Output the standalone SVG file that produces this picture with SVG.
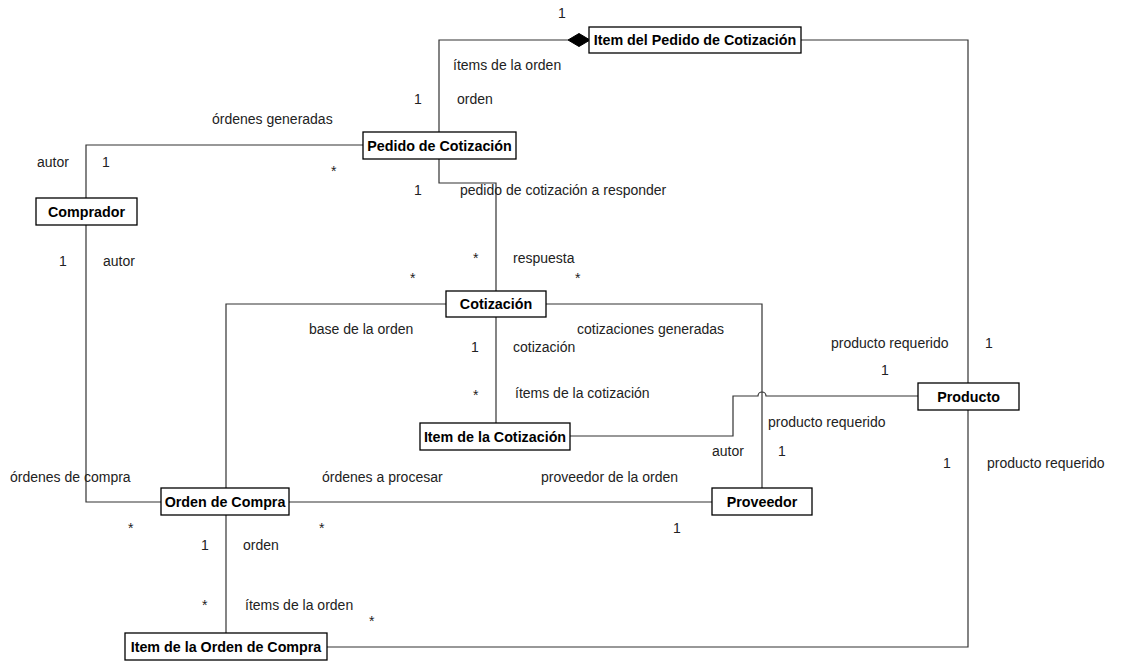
<svg xmlns="http://www.w3.org/2000/svg" width="1121" height="661" viewBox="0 0 1121 661">
<style>
.box{fill:#fff;stroke:#000;stroke-width:1.3}
.bt{font-family:"Liberation Sans",Arial,sans-serif;font-size:14.3px;font-weight:bold;fill:#000;text-anchor:middle}
.lb{font-family:"Liberation Sans",Arial,sans-serif;font-size:14px;fill:#222}
.ln{fill:none;stroke:#333;stroke-width:1.2}
</style>
<rect width="1121" height="661" fill="#fff"/>
<g id="connectors">
<path class="ln" d="M568,40 L439,40 L439,132"/>
<polygon points="568,40 579,33.5 590,40 579,46.5" fill="#000" stroke="#000" stroke-width="1"/>
<path class="ln" d="M801,40 L968,40 L968,383"/>
<path class="ln" d="M363,145 L86,145 L86,198"/>
<path class="ln" d="M439,159 L439,183 L496,183 L496,291"/>
<path class="ln" d="M86,225 L86,502 L161,502"/>
<path class="ln" d="M446,304 L226,304 L226,488"/>
<path class="ln" d="M546,304 L762,304 L762,488"/>
<path class="ln" d="M496,317 L496,423"/>
<path class="ln" d="M570,436 L733,436 L733,396 L758,396 A4,4 0 0 1 766,396 L918,396"/>
<path class="ln" d="M289,502 L712,502"/>
<path class="ln" d="M226,515 L226,633"/>
<path class="ln" d="M327,647 L968,647 L968,410"/>
</g>
<g id="item-pedido"><rect class="box" x="589" y="27" width="212" height="26"/><text class="bt" x="695" y="45">Item del Pedido de Cotización</text></g>
<g id="pedido"><rect class="box" x="363" y="132" width="153" height="27"/><text class="bt" x="439.5" y="151">Pedido de Cotización</text></g>
<g id="comprador"><rect class="box" x="36" y="198" width="101" height="27"/><text class="bt" x="86.5" y="217">Comprador</text></g>
<g id="cotizacion"><rect class="box" x="446" y="291" width="100" height="26"/><text class="bt" x="496" y="309">Cotización</text></g>
<g id="item-cotizacion"><rect class="box" x="420" y="423" width="150" height="27"/><text class="bt" x="495" y="442">Item de la Cotización</text></g>
<g id="producto"><rect class="box" x="918" y="383" width="101" height="27"/><text class="bt" x="968.5" y="402">Producto</text></g>
<g id="proveedor"><rect class="box" x="712" y="488" width="100" height="27"/><text class="bt" x="762" y="507">Proveedor</text></g>
<g id="orden-compra"><rect class="box" x="161" y="488" width="128" height="27"/><text class="bt" x="225" y="507">Orden de Compra</text></g>
<g id="item-orden"><rect class="box" x="125" y="633" width="202" height="27"/><text class="bt" x="226" y="652">Item de la Orden de Compra</text></g>
<g id="labels">
<text class="lb" x="558" y="18">1</text>
<text class="lb" x="453" y="70">ítems de la orden</text>
<text class="lb" x="414" y="104">1</text>
<text class="lb" x="457" y="104">orden</text>
<text class="lb" x="212" y="124">órdenes generadas</text>
<text class="lb" x="37" y="167">autor</text>
<text class="lb" x="102" y="167">1</text>
<text class="lb" x="331" y="176">*</text>
<text class="lb" x="414" y="195">1</text>
<text class="lb" x="460" y="195">pedido de cotización a responder</text>
<text class="lb" x="59" y="266">1</text>
<text class="lb" x="103" y="266">autor</text>
<text class="lb" x="473" y="263">*</text>
<text class="lb" x="513" y="263">respuesta</text>
<text class="lb" x="410" y="283">*</text>
<text class="lb" x="575" y="283">*</text>
<text class="lb" x="309" y="334">base de la orden</text>
<text class="lb" x="577" y="334">cotizaciones generadas</text>
<text class="lb" x="471" y="352">1</text>
<text class="lb" x="513" y="352">cotización</text>
<text class="lb" x="831" y="348">producto requerido</text>
<text class="lb" x="985" y="348">1</text>
<text class="lb" x="881" y="375">1</text>
<text class="lb" x="473" y="400">*</text>
<text class="lb" x="515" y="398">ítems de la cotización</text>
<text class="lb" x="768" y="427">producto requerido</text>
<text class="lb" x="712" y="456">autor</text>
<text class="lb" x="778" y="456">1</text>
<text class="lb" x="943" y="468">1</text>
<text class="lb" x="987" y="468">producto requerido</text>
<text class="lb" x="10" y="482">órdenes de compra</text>
<text class="lb" x="322" y="482">órdenes a procesar</text>
<text class="lb" x="541" y="482">proveedor de la orden</text>
<text class="lb" x="128" y="533">*</text>
<text class="lb" x="319" y="533">*</text>
<text class="lb" x="673" y="533">1</text>
<text class="lb" x="201" y="550">1</text>
<text class="lb" x="243" y="550">orden</text>
<text class="lb" x="202" y="610">*</text>
<text class="lb" x="245" y="610">ítems de la orden</text>
<text class="lb" x="369" y="626">*</text>
</g>
</svg>
